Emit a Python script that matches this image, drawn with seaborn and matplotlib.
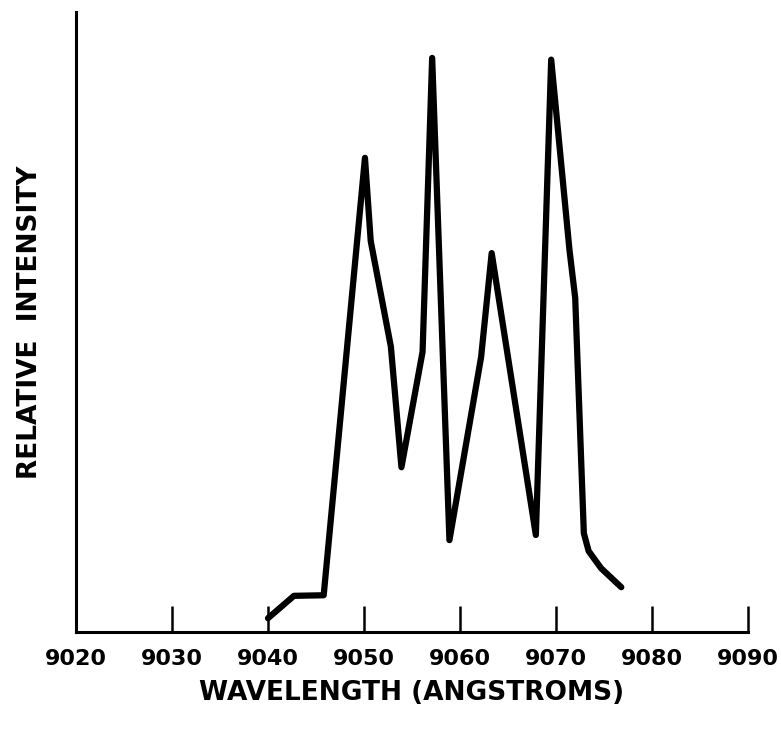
import matplotlib
matplotlib.use('Agg')
import matplotlib.pyplot as plt
import pandas as pd
import seaborn as sns

# 谱线数据（从图上读出来的）
wavelength = [9040.0, 9042.7, 9045.8, 9050.1, 9050.7, 9052.8, 9053.9, 9056.1,
              9057.1, 9058.9, 9062.2, 9063.3, 9067.9, 9069.5, 9071.4, 9072.0,
              9072.9, 9073.4, 9074.7, 9076.8]
intensity = [2.4, 6.3, 6.4, 82.6, 68.1, 49.7, 28.7, 48.8,
             100.0, 16.0, 47.9, 66.0, 16.9, 99.7, 66.6, 58.2,
             17.2, 14.1, 11.1, 7.8]
x_ticks = [9020, 9030, 9040, 9050, 9060, 9070, 9080, 9090]

sns.set_style('white')
plt.rcParams['font.family'] = ['DejaVu Sans']
plt.rcParams['text.color'] = 'black'
plt.rcParams['axes.labelcolor'] = 'black'

datas = pd.DataFrame({'wavelength': wavelength, 'intensity': intensity})

fig = plt.figure(figsize=(7.81, 7.31), dpi=100)
ax = fig.add_axes([76 / 781, 99 / 731, 672 / 781, 620 / 731])

sns.lineplot(data=datas, x='wavelength', y='intensity', ax=ax,
             color='black', linewidth=4.5, sort=False, estimator=None)

ax.set_xlim(9020, 9090)
ax.set_ylim(0, 108)

# 只留左边和下边的轴
sns.despine(ax=ax)
for s in ['left', 'bottom']:
    ax.spines[s].set_linewidth(2.2)
    ax.spines[s].set_color('black')

# 刻度线朝里（向上）
ax.set_xticks(x_ticks)
ax.set_xticklabels([str(t) for t in x_ticks], fontsize=16, fontweight='bold')
ax.tick_params(axis='x', bottom=True, direction='in', length=19, width=1.8,
               pad=12, colors='black')
ax.set_yticks([])

ax.set_xlabel('WAVELENGTH (ANGSTROMS)', fontsize=19, fontweight='bold', labelpad=8)
ax.set_ylabel('RELATIVE  INTENSITY', fontsize=19, fontweight='bold', labelpad=24)

fig.savefig('out.png', dpi=100)
